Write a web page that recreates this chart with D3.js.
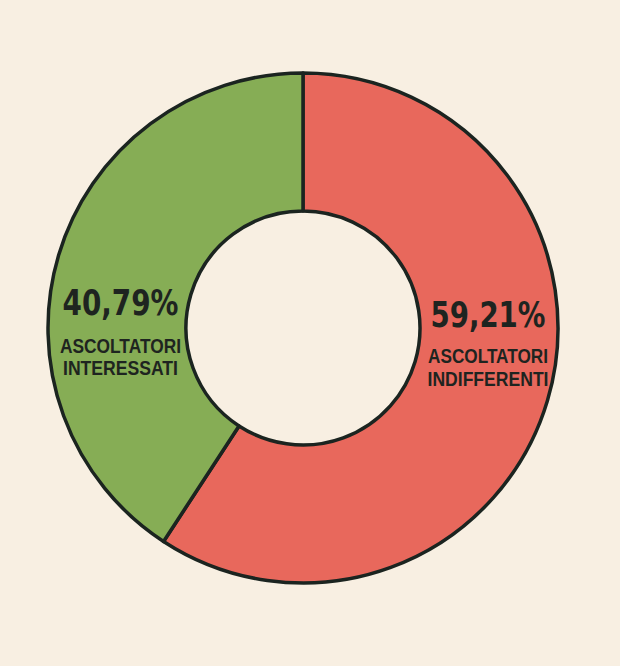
<!DOCTYPE html>
<html><head><meta charset="utf-8">
<script src="https://cdn.jsdelivr.net/npm/d3@7"></script>
<style>html,body{margin:0;padding:0;background:#f8efe2;}svg{display:block;}</style>
</head><body>
<svg id="c" width="620" height="666"></svg>
<script>
const categories = ["ASCOLTATORI INDIFFERENTI", "ASCOLTATORI INTERESSATI"];
const values = [59.21, 40.79];
const valueLabels = ["59,21%", "40,79%"];
const labelLines = [["ASCOLTATORI", "INDIFFERENTI"], ["ASCOLTATORI", "INTERESSATI"]];
const colors = ["#e8685c", "#86ad55"];

const svg = d3.select("#c");
const cx = 303, cy = 328, rO = 255, rI = 117;
const g = svg.append("g").attr("transform", `translate(${cx},${cy})`);
const pie = d3.pie().sort(null).value(d => d)(values);
const arc = d3.arc().innerRadius(rI).outerRadius(rO);
g.selectAll("path").data(pie).join("path")
  .attr("d", arc)
  .attr("fill", (d, i) => colors[i])
  .attr("stroke", "#1b2420")
  .attr("stroke-width", 3.5)
  .attr("stroke-linejoin", "round");

// label placement per slice
const labelPos = [[488, 327], [120.5, 315]];
const pctWidth = [115, 116];
const lineWidths = [[120, 121], [121, 115]];
const lineOffsets = [[36, 59], [38, 60]];
pie.forEach((d, i) => {
  const [x, y] = labelPos[i];
  svg.append("text").attr("x", x).attr("y", y).attr("text-anchor", "middle")
    .attr("font-family", "'DejaVu Sans Condensed', 'DejaVu Sans', sans-serif").attr("font-weight", "bold").attr("font-size", 36)
    .attr("textLength", pctWidth[i]).attr("lengthAdjust", "spacingAndGlyphs")
    .attr("fill", "#1e2420").text(valueLabels[i]);
  labelLines[i].forEach((t, j) => {
    svg.append("text").attr("x", x).attr("y", y + lineOffsets[i][j]).attr("text-anchor", "middle")
      .attr("font-family", "'Liberation Sans Narrow', sans-serif").attr("font-weight", "bold").attr("font-size", 21)
      .attr("textLength", lineWidths[i][j]).attr("lengthAdjust", "spacingAndGlyphs")
      .attr("fill", "#1e2420").text(t);
  });
});
</script>
</body></html>
